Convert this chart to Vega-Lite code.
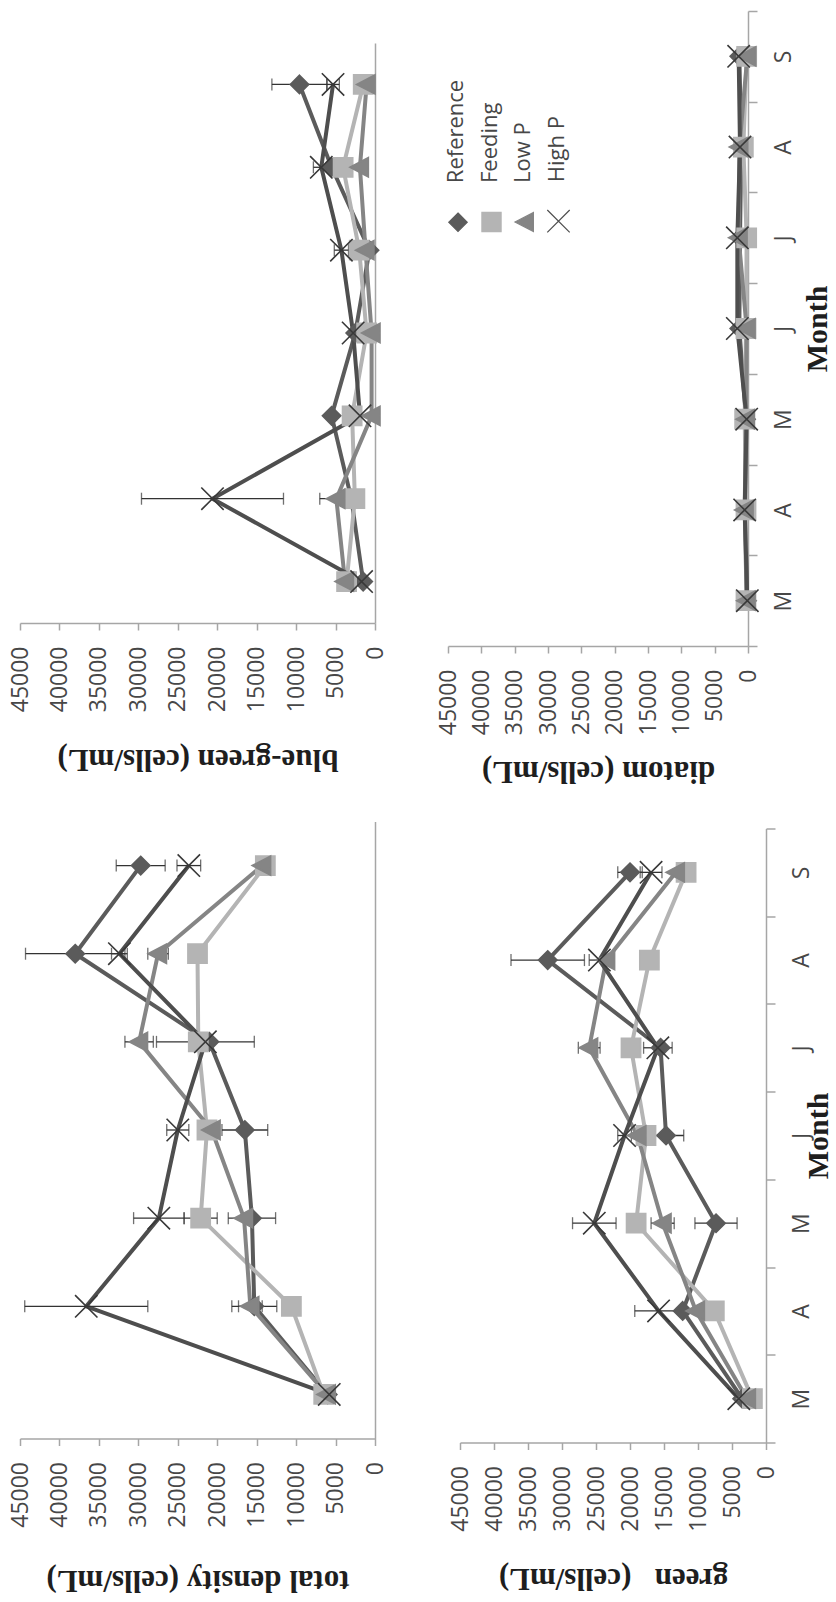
{
  "$schema": "https://vega.github.io/schema/vega-lite/v6.json",
  "padding": {"left": 9, "top": 10, "right": 2, "bottom": 5},
  "background": "white",
  "datasets": {
    "cells": [
      {"panel": "total", "month": 3, "series": "Reference", "value": 6000},
      {"panel": "total", "month": 4, "series": "Reference", "value": 15300, "err": 2850},
      {"panel": "total", "month": 5, "series": "Reference", "value": 15600, "err": 3000},
      {"panel": "total", "month": 6, "series": "Reference", "value": 16500, "err": 2900},
      {"panel": "total", "month": 7, "series": "Reference", "value": 21000},
      {"panel": "total", "month": 8, "series": "Reference", "value": 38000, "err": 6300},
      {"panel": "total", "month": 9, "series": "Reference", "value": 29700, "err": 3100},
      {"panel": "total", "month": 3, "series": "Feeding", "value": 6500},
      {"panel": "total", "month": 4, "series": "Feeding", "value": 10600},
      {"panel": "total", "month": 5, "series": "Feeding", "value": 22100, "err": 2100},
      {"panel": "total", "month": 6, "series": "Feeding", "value": 21300},
      {"panel": "total", "month": 7, "series": "Feeding", "value": 22400},
      {"panel": "total", "month": 8, "series": "Feeding", "value": 22500},
      {"panel": "total", "month": 9, "series": "Feeding", "value": 13900},
      {"panel": "total", "month": 3, "series": "Low P", "value": 6100},
      {"panel": "total", "month": 4, "series": "Low P", "value": 15800, "err": 1500},
      {"panel": "total", "month": 5, "series": "Low P", "value": 16600},
      {"panel": "total", "month": 6, "series": "Low P", "value": 20700},
      {"panel": "total", "month": 7, "series": "Low P", "value": 29900, "err": 1800},
      {"panel": "total", "month": 8, "series": "Low P", "value": 27500, "err": 1300},
      {"panel": "total", "month": 9, "series": "Low P", "value": 14300},
      {"panel": "total", "month": 3, "series": "High P", "value": 5800},
      {"panel": "total", "month": 4, "series": "High P", "value": 36600, "err": 7800},
      {"panel": "total", "month": 5, "series": "High P", "value": 27400, "err": 3200},
      {"panel": "total", "month": 6, "series": "High P", "value": 25000, "err": 1400},
      {"panel": "total", "month": 7, "series": "High P", "value": 21500, "err": 6200},
      {"panel": "total", "month": 8, "series": "High P", "value": 32400, "err": 1000},
      {"panel": "total", "month": 9, "series": "High P", "value": 23600, "err": 1500},

      {"panel": "blue-green", "month": 3, "series": "Reference", "value": 1500},
      {"panel": "blue-green", "month": 4, "series": "Reference", "value": 3000},
      {"panel": "blue-green", "month": 5, "series": "Reference", "value": 5500},
      {"panel": "blue-green", "month": 6, "series": "Reference", "value": 2500},
      {"panel": "blue-green", "month": 7, "series": "Reference", "value": 700},
      {"panel": "blue-green", "month": 8, "series": "Reference", "value": 5500},
      {"panel": "blue-green", "month": 9, "series": "Reference", "value": 9570, "err": 3500},
      {"panel": "blue-green", "month": 3, "series": "Feeding", "value": 3600},
      {"panel": "blue-green", "month": 4, "series": "Feeding", "value": 2550},
      {"panel": "blue-green", "month": 5, "series": "Feeding", "value": 2900},
      {"panel": "blue-green", "month": 6, "series": "Feeding", "value": 1060},
      {"panel": "blue-green", "month": 7, "series": "Feeding", "value": 2000},
      {"panel": "blue-green", "month": 8, "series": "Feeding", "value": 4040},
      {"panel": "blue-green", "month": 9, "series": "Feeding", "value": 1490},
      {"panel": "blue-green", "month": 3, "series": "Low P", "value": 3800},
      {"panel": "blue-green", "month": 4, "series": "Low P", "value": 4900, "err": 2100},
      {"panel": "blue-green", "month": 5, "series": "Low P", "value": 430},
      {"panel": "blue-green", "month": 6, "series": "Low P", "value": 430},
      {"panel": "blue-green", "month": 7, "series": "Low P", "value": 1200},
      {"panel": "blue-green", "month": 8, "series": "Low P", "value": 1910},
      {"panel": "blue-green", "month": 9, "series": "Low P", "value": 1060},
      {"panel": "blue-green", "month": 3, "series": "High P", "value": 1700},
      {"panel": "blue-green", "month": 4, "series": "High P", "value": 20600, "err": 9000},
      {"panel": "blue-green", "month": 5, "series": "High P", "value": 1900},
      {"panel": "blue-green", "month": 6, "series": "High P", "value": 2770},
      {"panel": "blue-green", "month": 7, "series": "High P", "value": 4260, "err": 900},
      {"panel": "blue-green", "month": 8, "series": "High P", "value": 6810, "err": 1000},
      {"panel": "blue-green", "month": 9, "series": "High P", "value": 5320, "err": 800},

      {"panel": "green", "month": 3, "series": "Reference", "value": 3500},
      {"panel": "green", "month": 4, "series": "Reference", "value": 12250},
      {"panel": "green", "month": 5, "series": "Reference", "value": 7350, "err": 3100},
      {"panel": "green", "month": 6, "series": "Reference", "value": 14700, "err": 2600},
      {"panel": "green", "month": 7, "series": "Reference", "value": 15500},
      {"panel": "green", "month": 8, "series": "Reference", "value": 32100, "err": 5400},
      {"panel": "green", "month": 9, "series": "Reference", "value": 20000, "err": 1800},
      {"panel": "green", "month": 3, "series": "Feeding", "value": 2000},
      {"panel": "green", "month": 4, "series": "Feeding", "value": 7600},
      {"panel": "green", "month": 5, "series": "Feeding", "value": 19100, "err": 1200},
      {"panel": "green", "month": 6, "series": "Feeding", "value": 17650},
      {"panel": "green", "month": 7, "series": "Feeding", "value": 19850},
      {"panel": "green", "month": 8, "series": "Feeding", "value": 17150},
      {"panel": "green", "month": 9, "series": "Feeding", "value": 11750},
      {"panel": "green", "month": 3, "series": "Low P", "value": 2800},
      {"panel": "green", "month": 4, "series": "Low P", "value": 10300},
      {"panel": "green", "month": 5, "series": "Low P", "value": 15200, "err": 1700},
      {"panel": "green", "month": 6, "series": "Low P", "value": 18900},
      {"panel": "green", "month": 7, "series": "Low P", "value": 26000, "err": 1600},
      {"panel": "green", "month": 8, "series": "Low P", "value": 23500},
      {"panel": "green", "month": 9, "series": "Low P", "value": 13250},
      {"panel": "green", "month": 3, "series": "High P", "value": 4000},
      {"panel": "green", "month": 4, "series": "High P", "value": 15800, "err": 3500},
      {"panel": "green", "month": 5, "series": "High P", "value": 25250, "err": 3200},
      {"panel": "green", "month": 6, "series": "High P", "value": 20800, "err": 1000},
      {"panel": "green", "month": 7, "series": "High P", "value": 15900, "err": 2100},
      {"panel": "green", "month": 8, "series": "High P", "value": 24500, "err": 1500},
      {"panel": "green", "month": 9, "series": "High P", "value": 16900, "err": 1600},

      {"panel": "diatom", "month": 3, "series": "Reference", "value": 150},
      {"panel": "diatom", "month": 4, "series": "Reference", "value": 400},
      {"panel": "diatom", "month": 5, "series": "Reference", "value": 300},
      {"panel": "diatom", "month": 6, "series": "Reference", "value": 1300},
      {"panel": "diatom", "month": 7, "series": "Reference", "value": 1200},
      {"panel": "diatom", "month": 8, "series": "Reference", "value": 1000},
      {"panel": "diatom", "month": 9, "series": "Reference", "value": 1300},
      {"panel": "diatom", "month": 3, "series": "Feeding", "value": 300},
      {"panel": "diatom", "month": 4, "series": "Feeding", "value": 300},
      {"panel": "diatom", "month": 5, "series": "Feeding", "value": 500},
      {"panel": "diatom", "month": 6, "series": "Feeding", "value": 300},
      {"panel": "diatom", "month": 7, "series": "Feeding", "value": 200},
      {"panel": "diatom", "month": 8, "series": "Feeding", "value": 700},
      {"panel": "diatom", "month": 9, "series": "Feeding", "value": 200},
      {"panel": "diatom", "month": 3, "series": "Low P", "value": 200},
      {"panel": "diatom", "month": 4, "series": "Low P", "value": 500},
      {"panel": "diatom", "month": 5, "series": "Low P", "value": 300},
      {"panel": "diatom", "month": 6, "series": "Low P", "value": 200},
      {"panel": "diatom", "month": 7, "series": "Low P", "value": 1400},
      {"panel": "diatom", "month": 8, "series": "Low P", "value": 1300},
      {"panel": "diatom", "month": 9, "series": "Low P", "value": 100},
      {"panel": "diatom", "month": 3, "series": "High P", "value": 100},
      {"panel": "diatom", "month": 4, "series": "High P", "value": 500},
      {"panel": "diatom", "month": 5, "series": "High P", "value": 200},
      {"panel": "diatom", "month": 6, "series": "High P", "value": 1600},
      {"panel": "diatom", "month": 7, "series": "High P", "value": 1600},
      {"panel": "diatom", "month": 8, "series": "High P", "value": 1200},
      {"panel": "diatom", "month": 9, "series": "High P", "value": 1400}
    ]
  },
  "config": {
    "view": {"stroke": null},
    "axis": {
      "grid": false,
      "domainColor": "#a6a6a6",
      "domainWidth": 1.5,
      "tickColor": "#a6a6a6",
      "tickWidth": 1.5,
      "labelFont": "Open Sans",
      "labelFontSize": 23,
      "labelColor": "#474747",
      "labelFlush": false,
      "labelOverlap": false,
      "titleFont": "Liberation Serif",
      "titleFontSize": 31,
      "titleFontWeight": "bold",
      "titleColor": "#1e1e1e"
    }
  },
  "resolve": {"scale": {"color": "independent", "shape": "independent", "stroke": "independent"}, "legend": {"color": "independent"}},
  "spacing": 34.5,
  "vconcat": [
    {
      "resolve": {"scale": {"color": "independent", "shape": "independent", "stroke": "independent"}, "legend": {"color": "independent"}},
      "spacing": 50,
      "hconcat": [
        {
          "width": 355,
          "height": 612,
          "data": {"name": "cells"},
          "transform": [{"filter": "datum.panel === 'blue-green'"}],
          "encoding": {
            "x": {
              "field": "value", "type": "quantitative",
              "scale": {"domain": [0, 45000], "reverse": true, "nice": false},
              "axis": {
                "orient": "bottom", "values": [0, 5000, 10000, 15000, 20000, 25000, 30000, 35000, 40000, 45000],
                "format": "d", "labelAngle": -90, "labelAlign": "right", "labelBaseline": "middle", "labelPadding": 16,
                "tickSize": 7, "title": "blue-green (cells/mL)", "titleAngle": 180, "titleBaseline": "bottom",
                "titleAlign": "center", "titlePadding": 31
              }
            },
            "y": {
              "field": "month", "type": "quantitative",
              "scale": {"domain": [2.5, 9.5], "nice": false, "zero": false, "range": [612, 32]},
              "axis": {"orient": "right", "labels": false, "ticks": false, "title": null, "values": [2.5, 9.5]}
            }
          },
          "layer": [
            {
              "mark": {"type": "line", "strokeWidth": 4, "strokeJoin": "round"},
              "encoding": {
                "color": {"field": "series", "type": "nominal", "scale": {"domain": ["Reference", "Feeding", "Low P", "High P"], "range": ["#5b5b5b", "#b4b4b4", "#858585", "#4e4e4e"]}, "legend": null},
                "order": {"field": "month", "type": "quantitative"}
              }
            },
            {
              "transform": [{"filter": "isValid(datum.err)"}],
              "mark": {"type": "errorbar", "ticks": true, "size": 12, "thickness": 1.3, "color": "#333333"},
              "encoding": {"xError": {"field": "err"}}
            },
            {
              "mark": {"type": "point", "filled": true, "size": 256, "strokeWidth": 1.6, "opacity": 1},
              "encoding": {
                "color": {"field": "series", "type": "nominal", "scale": {"domain": ["Reference", "Feeding", "Low P", "High P"], "range": ["#5b5b5b", "#b4b4b4", "#858585", "#4e4e4e"]}, "legend": null},
                "stroke": {"field": "series", "type": "nominal", "scale": {"domain": ["Reference", "Feeding", "Low P", "High P"], "range": ["#5b5b5b", "#b4b4b4", "#858585", "#383838"]}, "legend": null},
                "shape": {"field": "series", "type": "nominal", "scale": {"domain": ["Reference", "Feeding", "Low P", "High P"], "range": ["M0,-1.15L1.15,0L0,1.15L-1.15,0Z", "M-1.2,-1.2H1.2V1.2H-1.2Z", "M-1.25,0L1.05,-1.2L1.05,1.2Z", "M-1.4,-1.4L1.4,1.4M-1.4,1.4L1.4,-1.4"]}, "legend": null}
              }
            }
          ]
        },
        {
          "width": 300,
          "height": 635,
          "data": {"name": "cells"},
          "transform": [{"filter": "datum.panel === 'diatom'"}],
          "encoding": {
            "x": {
              "field": "value", "type": "quantitative",
              "scale": {"domain": [0, 45000], "reverse": true, "nice": false},
              "axis": {
                "orient": "bottom", "values": [0, 5000, 10000, 15000, 20000, 25000, 30000, 35000, 40000, 45000],
                "format": "d", "labelAngle": -90, "labelAlign": "right", "labelBaseline": "middle", "labelPadding": 16,
                "tickSize": 7, "title": "diatom (cells/mL)", "titleAngle": 180, "titleBaseline": "bottom",
                "titleAlign": "center", "titlePadding": 20
              }
            },
            "y": {
              "field": "month", "type": "quantitative",
              "scale": {"domain": [2.5, 9.5], "nice": false, "zero": false},
              "axis": {
                "orient": "right", "values": [2.5, 3, 3.5, 4, 4.5, 5, 5.5, 6, 6.5, 7, 7.5, 8, 8.5, 9, 9.5],
                "labelExpr": "datum.value % 1 === 0 ? ['M','A','M','J','J','A','S'][datum.value - 3] : ''",
                "tickOpacity": {"condition": {"test": "datum.value % 1 !== 0", "value": 1}, "value": 0},
                "tickSize": 9, "labelAngle": -90, "labelAlign": "center", "labelBaseline": "top", "labelPadding": 15,
                "title": "Month", "titleFontSize": 30, "titleAngle": -90, "titleBaseline": "top", "titleAlign": "center", "titlePadding": 7
              }
            }
          },
          "layer": [
            {
              "mark": {"type": "line", "strokeWidth": 4, "strokeJoin": "round"},
              "encoding": {
                "color": {
                  "field": "series", "type": "nominal",
                  "scale": {"domain": ["Reference", "Feeding", "Low P", "High P"], "range": ["#5b5b5b", "#b4b4b4", "#858585", "#4e4e4e"]},
                  "legend": {
                    "orient": "none", "legendX": -1, "legendY": 199, "direction": "horizontal", "columns": 4,
                    "title": null, "padding": 0, "columnPadding": 8.5, "symbolSize": 256, "symbolStrokeWidth": 1.2,
                    "labelFont": "Open Sans", "labelFontSize": 22, "labelColor": "#474747", "labelLimit": 0,
                    "encode": {
                      "symbols": {"update": {
                        "shape": {"signal": "datum.value === 'Reference' ? 'M-0.3,-3.3H0.3V3.3H-0.3ZM0,-1.1L1.1,0L0,1.1L-1.1,0Z' : datum.value === 'Feeding' ? 'M-0.3,-3.3H0.3V3.3H-0.3ZM-1.1,-1.1H1.1V1.1H-1.1Z' : datum.value === 'Low P' ? 'M-0.3,-3.3H0.3V3.3H-0.3ZM-1.2,0L1,-1.1L1,1.1Z' : 'M-0.3,-3.3H0.3V3.3H-0.3ZM-1.1,-1.1L1.1,1.1M-1.1,1.1L1.1,-1.1'"},
                        "fill": {"signal": "datum.value === 'Reference' ? '#5b5b5b' : datum.value === 'Feeding' ? '#b4b4b4' : datum.value === 'Low P' ? '#858585' : '#4e4e4e'"},
                        "stroke": {"signal": "datum.value === 'Reference' ? '#5b5b5b' : datum.value === 'Feeding' ? '#b4b4b4' : datum.value === 'Low P' ? '#858585' : '#555555'"},
                        "opacity": {"value": 1}
                      }},
                      "labels": {"update": {
                        "angle": {"value": -90}, "align": {"value": "left"}, "baseline": {"value": "middle"},
                        "x": {"value": 9}, "y": {"value": -28}
                      }}
                    }
                  }
                },
                "order": {"field": "month", "type": "quantitative"}
              }
            },
            {
              "transform": [{"filter": "isValid(datum.err)"}],
              "mark": {"type": "errorbar", "ticks": true, "size": 12, "thickness": 1.3, "color": "#333333"},
              "encoding": {"xError": {"field": "err"}}
            },
            {
              "mark": {"type": "point", "filled": true, "size": 256, "strokeWidth": 1.6, "opacity": 1},
              "encoding": {
                "color": {
                  "field": "series", "type": "nominal",
                  "scale": {"domain": ["Reference", "Feeding", "Low P", "High P"], "range": ["#5b5b5b", "#b4b4b4", "#858585", "#4e4e4e"]},
                  "legend": {
                    "orient": "none", "legendX": -1, "legendY": 199, "direction": "horizontal", "columns": 4,
                    "title": null, "padding": 0, "columnPadding": 8.5, "symbolSize": 256, "symbolStrokeWidth": 1.2,
                    "labelFont": "Open Sans", "labelFontSize": 22, "labelColor": "#474747", "labelLimit": 0,
                    "encode": {
                      "symbols": {"update": {
                        "shape": {"signal": "datum.value === 'Reference' ? 'M-0.3,-3.3H0.3V3.3H-0.3ZM0,-1.1L1.1,0L0,1.1L-1.1,0Z' : datum.value === 'Feeding' ? 'M-0.3,-3.3H0.3V3.3H-0.3ZM-1.1,-1.1H1.1V1.1H-1.1Z' : datum.value === 'Low P' ? 'M-0.3,-3.3H0.3V3.3H-0.3ZM-1.2,0L1,-1.1L1,1.1Z' : 'M-0.3,-3.3H0.3V3.3H-0.3ZM-1.1,-1.1L1.1,1.1M-1.1,1.1L1.1,-1.1'"},
                        "fill": {"signal": "datum.value === 'Reference' ? '#5b5b5b' : datum.value === 'Feeding' ? '#b4b4b4' : datum.value === 'Low P' ? '#858585' : '#4e4e4e'"},
                        "stroke": {"signal": "datum.value === 'Reference' ? '#5b5b5b' : datum.value === 'Feeding' ? '#b4b4b4' : datum.value === 'Low P' ? '#858585' : '#555555'"},
                        "opacity": {"value": 1}
                      }},
                      "labels": {"update": {
                        "angle": {"value": -90}, "align": {"value": "left"}, "baseline": {"value": "middle"},
                        "x": {"value": 9}, "y": {"value": -28}
                      }}
                    }
                  }
                },
                "stroke": {"field": "series", "type": "nominal", "scale": {"domain": ["Reference", "Feeding", "Low P", "High P"], "range": ["#5b5b5b", "#b4b4b4", "#858585", "#383838"]}, "legend": null},
                "shape": {"field": "series", "type": "nominal", "scale": {"domain": ["Reference", "Feeding", "Low P", "High P"], "range": ["M0,-1.15L1.15,0L0,1.15L-1.15,0Z", "M-1.2,-1.2H1.2V1.2H-1.2Z", "M-1.25,0L1.05,-1.2L1.05,1.2Z", "M-1.4,-1.4L1.4,1.4M-1.4,1.4L1.4,-1.4"]}, "legend": null}
              }
            }
          ]
        }
      ]
    },
    {
      "resolve": {"scale": {"color": "independent", "shape": "independent", "stroke": "independent"}, "legend": {"color": "independent"}},
      "spacing": 62,
      "hconcat": [
        {
          "width": 355,
          "height": 617,
          "data": {"name": "cells"},
          "transform": [{"filter": "datum.panel === 'total'"}],
          "encoding": {
            "x": {
              "field": "value", "type": "quantitative",
              "scale": {"domain": [0, 45000], "reverse": true, "nice": false},
              "axis": {
                "orient": "bottom", "values": [0, 5000, 10000, 15000, 20000, 25000, 30000, 35000, 40000, 45000],
                "format": "d", "labelAngle": -90, "labelAlign": "right", "labelBaseline": "middle", "labelPadding": 16,
                "tickSize": 7, "title": "total density (cells/mL)", "titleAngle": 180, "titleBaseline": "bottom",
                "titleAlign": "center", "titlePadding": 36
              }
            },
            "y": {
              "field": "month", "type": "quantitative",
              "scale": {"domain": [2.5, 9.5], "nice": false, "zero": false},
              "axis": {"orient": "right", "labels": false, "ticks": false, "title": null, "values": [2.5, 9.5]}
            }
          },
          "layer": [
            {
              "mark": {"type": "line", "strokeWidth": 4, "strokeJoin": "round"},
              "encoding": {
                "color": {"field": "series", "type": "nominal", "scale": {"domain": ["Reference", "Feeding", "Low P", "High P"], "range": ["#5b5b5b", "#b4b4b4", "#858585", "#4e4e4e"]}, "legend": null},
                "order": {"field": "month", "type": "quantitative"}
              }
            },
            {
              "transform": [{"filter": "isValid(datum.err)"}],
              "mark": {"type": "errorbar", "ticks": true, "size": 12, "thickness": 1.3, "color": "#333333"},
              "encoding": {"xError": {"field": "err"}}
            },
            {
              "mark": {"type": "point", "filled": true, "size": 256, "strokeWidth": 1.6, "opacity": 1},
              "encoding": {
                "color": {"field": "series", "type": "nominal", "scale": {"domain": ["Reference", "Feeding", "Low P", "High P"], "range": ["#5b5b5b", "#b4b4b4", "#858585", "#4e4e4e"]}, "legend": null},
                "stroke": {"field": "series", "type": "nominal", "scale": {"domain": ["Reference", "Feeding", "Low P", "High P"], "range": ["#5b5b5b", "#b4b4b4", "#858585", "#383838"]}, "legend": null},
                "shape": {"field": "series", "type": "nominal", "scale": {"domain": ["Reference", "Feeding", "Low P", "High P"], "range": ["M0,-1.15L1.15,0L0,1.15L-1.15,0Z", "M-1.2,-1.2H1.2V1.2H-1.2Z", "M-1.25,0L1.05,-1.2L1.05,1.2Z", "M-1.4,-1.4L1.4,1.4M-1.4,1.4L1.4,-1.4"]}, "legend": null}
              }
            }
          ]
        },
        {
          "width": 306,
          "height": 621,
          "data": {"name": "cells"},
          "transform": [{"filter": "datum.panel === 'green'"}],
          "encoding": {
            "x": {
              "field": "value", "type": "quantitative",
              "scale": {"domain": [0, 45000], "reverse": true, "nice": false},
              "axis": {
                "orient": "bottom", "values": [0, 5000, 10000, 15000, 20000, 25000, 30000, 35000, 40000, 45000],
                "format": "d", "labelAngle": -90, "labelAlign": "right", "labelBaseline": "middle", "labelPadding": 16,
                "tickSize": 7, "title": "green\u00a0\u00a0 (cells/mL)", "titleAngle": 180, "titleBaseline": "bottom",
                "titleAlign": "center", "titlePadding": 30
              }
            },
            "y": {
              "field": "month", "type": "quantitative",
              "scale": {"domain": [2.5, 9.5], "nice": false, "zero": false, "range": [621, 7]},
              "axis": {
                "orient": "right", "values": [2.5, 3, 3.5, 4, 4.5, 5, 5.5, 6, 6.5, 7, 7.5, 8, 8.5, 9, 9.5],
                "labelExpr": "datum.value % 1 === 0 ? ['M','A','M','J','J','A','S'][datum.value - 3] : ''",
                "tickOpacity": {"condition": {"test": "datum.value % 1 !== 0", "value": 1}, "value": 0},
                "tickSize": 9, "labelAngle": -90, "labelAlign": "center", "labelBaseline": "top", "labelPadding": 15,
                "title": "Month", "titleFontSize": 30, "titleAngle": -90, "titleBaseline": "top", "titleAlign": "center", "titlePadding": -10
              }
            }
          },
          "layer": [
            {
              "mark": {"type": "line", "strokeWidth": 4, "strokeJoin": "round"},
              "encoding": {
                "color": {"field": "series", "type": "nominal", "scale": {"domain": ["Reference", "Feeding", "Low P", "High P"], "range": ["#5b5b5b", "#b4b4b4", "#858585", "#4e4e4e"]}, "legend": null},
                "order": {"field": "month", "type": "quantitative"}
              }
            },
            {
              "transform": [{"filter": "isValid(datum.err)"}],
              "mark": {"type": "errorbar", "ticks": true, "size": 12, "thickness": 1.3, "color": "#333333"},
              "encoding": {"xError": {"field": "err"}}
            },
            {
              "mark": {"type": "point", "filled": true, "size": 256, "strokeWidth": 1.6, "opacity": 1},
              "encoding": {
                "color": {"field": "series", "type": "nominal", "scale": {"domain": ["Reference", "Feeding", "Low P", "High P"], "range": ["#5b5b5b", "#b4b4b4", "#858585", "#4e4e4e"]}, "legend": null},
                "stroke": {"field": "series", "type": "nominal", "scale": {"domain": ["Reference", "Feeding", "Low P", "High P"], "range": ["#5b5b5b", "#b4b4b4", "#858585", "#383838"]}, "legend": null},
                "shape": {"field": "series", "type": "nominal", "scale": {"domain": ["Reference", "Feeding", "Low P", "High P"], "range": ["M0,-1.15L1.15,0L0,1.15L-1.15,0Z", "M-1.2,-1.2H1.2V1.2H-1.2Z", "M-1.25,0L1.05,-1.2L1.05,1.2Z", "M-1.4,-1.4L1.4,1.4M-1.4,1.4L1.4,-1.4"]}, "legend": null}
              }
            }
          ]
        }
      ]
    }
  ]
}
